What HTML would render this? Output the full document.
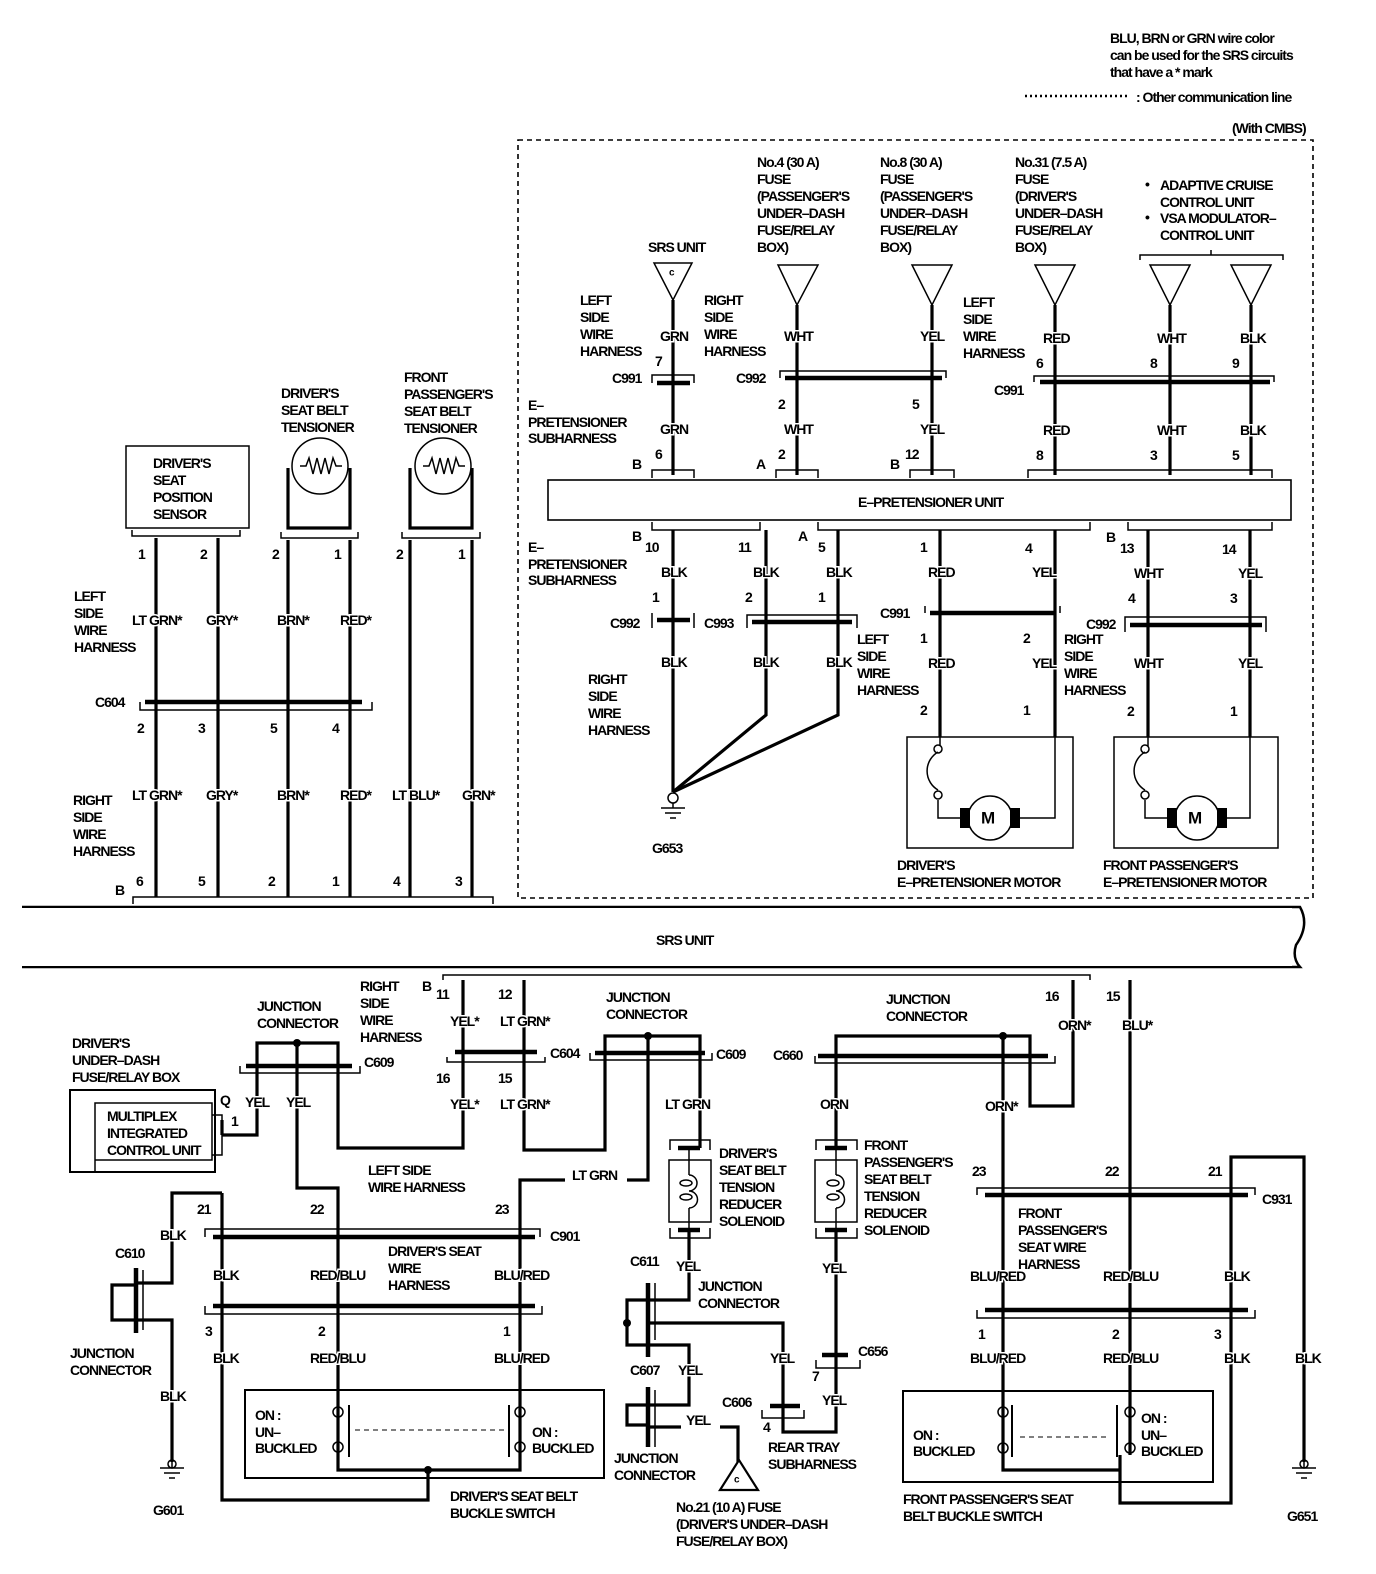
<!DOCTYPE html>
<html><head><meta charset="utf-8"><style>
html,body{margin:0;padding:0;background:#fff}
svg{display:block}
text{font-family:"Liberation Sans",sans-serif;font-weight:bold;font-size:14px;letter-spacing:-1px;dominant-baseline:central;fill:#000;paint-order:stroke;stroke:#fff;stroke-width:3px}
.w{stroke:#000;stroke-width:3.2;fill:none}
.t{stroke:#000;stroke-width:1.5;fill:none}
.b{stroke:#000;stroke-width:4.5;fill:none}
</style></head><body>
<svg width="1376" height="1574" viewBox="0 0 1376 1574" xmlns="http://www.w3.org/2000/svg">
<!-- legend -->
<text x="1110" y="38">BLU, BRN or GRN wire color</text>
<text x="1110" y="55">can be used for the SRS circuits</text>
<text x="1110" y="72">that have a * mark</text>
<line x1="1025" y1="96" x2="1128" y2="96" stroke="#000" stroke-width="2.5" stroke-dasharray="2,3"/>
<text x="1136" y="97">: Other communication line</text>
<text x="1232" y="128">(With CMBS)</text>
<rect x="518" y="140" width="795" height="758" fill="none" stroke="#000" stroke-width="1.6" stroke-dasharray="5,4"/>

<!-- top triangles -->
<g class="t" stroke-width="2.2">
<path d="M654,263 H692 L673,300 Z"/>
<path d="M778,265 H818 L797,305 Z"/>
<path d="M912,265 H952 L932,305 Z"/>
<path d="M1035,265 H1075 L1055,305 Z"/>
<path d="M1150,265 H1190 L1170,305 Z"/>
<path d="M1231,265 H1271 L1251,305 Z"/>
<path d="M1140,260 V255 H1283 V260 M1211,255 V250"/>
</g>
<text x="669" y="273" style="font-size:10px">c</text>
<text x="648" y="247">SRS UNIT</text>
<text x="757" y="162">No.4 (30 A)</text><text x="757" y="179">FUSE</text><text x="757" y="196">(PASSENGER'S</text><text x="757" y="213">UNDER–DASH</text><text x="757" y="230">FUSE/RELAY</text><text x="757" y="247">BOX)</text>
<text x="880" y="162">No.8 (30 A)</text><text x="880" y="179">FUSE</text><text x="880" y="196">(PASSENGER'S</text><text x="880" y="213">UNDER–DASH</text><text x="880" y="230">FUSE/RELAY</text><text x="880" y="247">BOX)</text>
<text x="1015" y="162">No.31 (7.5 A)</text><text x="1015" y="179">FUSE</text><text x="1015" y="196">(DRIVER'S</text><text x="1015" y="213">UNDER–DASH</text><text x="1015" y="230">FUSE/RELAY</text><text x="1015" y="247">BOX)</text>
<text x="1145" y="184">•</text><text x="1160" y="185">ADAPTIVE CRUISE</text><text x="1160" y="202">CONTROL UNIT</text>
<text x="1145" y="217">•</text><text x="1160" y="218">VSA MODULATOR–</text><text x="1160" y="235">CONTROL UNIT</text>
<text x="580" y="300">LEFT</text><text x="580" y="317">SIDE</text><text x="580" y="334">WIRE</text><text x="580" y="351">HARNESS</text>
<text x="704" y="300">RIGHT</text><text x="704" y="317">SIDE</text><text x="704" y="334">WIRE</text><text x="704" y="351">HARNESS</text>
<text x="963" y="302">LEFT</text><text x="963" y="319">SIDE</text><text x="963" y="336">WIRE</text><text x="963" y="353">HARNESS</text>

<!-- top wires -->
<g class="w">
<path d="M673,300 V475"/><path d="M797,305 V475"/><path d="M932,305 V475"/>
<path d="M1055,305 V475"/><path d="M1170,305 V475"/><path d="M1251,305 V475"/>
</g>
<g class="b">
<path d="M657,383 H690"/><path d="M785,378 H942"/><path d="M1040,382 H1270"/>
</g>
<g class="t">
<path d="M652,383 V375 H694 V383"/><path d="M780,378 V371 H946 V378"/><path d="M1034,382 V376 H1274 V382"/>
<path d="M652,478 V470 H694 V478"/><path d="M776,478 V470 H818 V478"/><path d="M910,478 V470 H954 V478"/><path d="M1028,478 V470 H1272 V478"/>
<path d="M652,522 V530 H760 V522"/><path d="M818,522 V530 H1090 V522"/><path d="M1128,522 V530 H1272 V522"/>
</g>
<text x="660" y="336">GRN</text><text x="784" y="336">WHT</text><text x="920" y="336">YEL</text><text x="1043" y="338">RED</text><text x="1157" y="338">WHT</text><text x="1240" y="338">BLK</text>
<text x="655" y="361">7</text><text x="1036" y="363">6</text><text x="1150" y="363">8</text><text x="1232" y="363">9</text>
<text x="612" y="378">C991</text><text x="736" y="378">C992</text><text x="994" y="390">C991</text>
<text x="778" y="404">2</text><text x="912" y="404">5</text>
<text x="660" y="429">GRN</text><text x="784" y="429">WHT</text><text x="920" y="429">YEL</text><text x="1043" y="430">RED</text><text x="1157" y="430">WHT</text><text x="1240" y="430">BLK</text>
<text x="528" y="405">E–</text><text x="528" y="422">PRETENSIONER</text><text x="528" y="438">SUBHARNESS</text>
<text x="632" y="464">B</text><text x="655" y="454">6</text><text x="756" y="464">A</text><text x="778" y="454">2</text><text x="890" y="464">B</text><text x="905" y="454">12</text><text x="1036" y="455">8</text><text x="1150" y="455">3</text><text x="1232" y="455">5</text>
<rect x="548" y="480" width="743" height="40" fill="none" stroke="#000" stroke-width="1.6"/>
<text x="858" y="502">E–PRETENSIONER UNIT</text>

<!-- below unit -->
<g class="w">
<path d="M673,530 V792"/><path d="M766,530 V715 L673,792"/><path d="M838,530 V715 L673,792"/>
<path d="M940,530 V737"/><path d="M1055,530 V737"/><path d="M1148,530 V737"/><path d="M1250,530 V737"/>
</g>
<g class="b">
<path d="M657,620 H690"/><path d="M752,622 H852"/><path d="M930,613 H1055"/><path d="M1130,625 H1262"/>
</g>
<g class="t">
<path d="M652,628 V613 M694,628 V613"/><path d="M747,628 V615 H857 V628"/><path d="M925,606 V613 M1060,606 V613"/><path d="M1125,632 V617 H1266 V632"/>
</g>
<text x="632" y="536">B</text><text x="798" y="536">A</text><text x="1106" y="537">B</text>
<text x="645" y="547">10</text><text x="738" y="547">11</text><text x="818" y="547">5</text><text x="920" y="547">1</text><text x="1025" y="548">4</text><text x="1120" y="548">13</text><text x="1222" y="549">14</text>
<text x="661" y="572">BLK</text><text x="753" y="572">BLK</text><text x="826" y="572">BLK</text><text x="928" y="572">RED</text><text x="1032" y="572">YEL</text><text x="1134" y="573">WHT</text><text x="1238" y="573">YEL</text>
<text x="528" y="547">E–</text><text x="528" y="564">PRETENSIONER</text><text x="528" y="580">SUBHARNESS</text>
<text x="652" y="597">1</text><text x="745" y="597">2</text><text x="818" y="597">1</text><text x="1128" y="598">4</text><text x="1230" y="598">3</text>
<text x="610" y="623">C992</text><text x="704" y="623">C993</text><text x="880" y="613">C991</text><text x="1086" y="624">C992</text>
<text x="920" y="638">1</text><text x="1023" y="638">2</text>
<text x="661" y="662">BLK</text><text x="753" y="662">BLK</text><text x="826" y="662">BLK</text><text x="928" y="663">RED</text><text x="1032" y="663">YEL</text><text x="1134" y="663">WHT</text><text x="1238" y="663">YEL</text>
<text x="857" y="639">LEFT</text><text x="857" y="656">SIDE</text><text x="857" y="673">WIRE</text><text x="857" y="690">HARNESS</text>
<text x="1064" y="639">RIGHT</text><text x="1064" y="656">SIDE</text><text x="1064" y="673">WIRE</text><text x="1064" y="690">HARNESS</text>
<text x="588" y="679">RIGHT</text><text x="588" y="696">SIDE</text><text x="588" y="713">WIRE</text><text x="588" y="730">HARNESS</text>
<text x="920" y="710">2</text><text x="1023" y="710">1</text><text x="1127" y="711">2</text><text x="1230" y="711">1</text>
<!-- ground G653 -->
<circle cx="673" cy="798" r="5" class="t" fill="#fff"/>
<path class="t" d="M673,803 V808 M661,808 H685 M665,813 H681 M670,818 H676"/>
<text x="652" y="848">G653</text>
<!-- motors -->
<g>
<rect x="907" y="737" width="166" height="111" class="t"/>
<path class="t" d="M940,737 V746 M938,752 A22,22 0 0 0 938,790 M938,800 V818 H966 M1014,818 H1055 V737"/>
<circle cx="938" cy="749" r="4" class="t" fill="#fff"/><circle cx="938" cy="795" r="4" class="t" fill="#fff"/>
<rect x="960" y="808" width="10" height="20"/><rect x="1010" y="808" width="10" height="20"/>
<circle cx="990" cy="818" r="22" class="t" fill="#fff" stroke-width="2"/>
<text x="981" y="818" style="font-size:17px">M</text>
</g>
<g transform="translate(207,0)">
<rect x="907" y="737" width="164" height="111" class="t"/>
<path class="t" d="M941,737 V746 M938,752 A22,22 0 0 0 938,790 M938,800 V818 H966 M1014,818 H1043 V737"/>
<circle cx="938" cy="749" r="4" class="t" fill="#fff"/><circle cx="938" cy="795" r="4" class="t" fill="#fff"/>
<rect x="960" y="808" width="10" height="20"/><rect x="1010" y="808" width="10" height="20"/>
<circle cx="990" cy="818" r="22" class="t" fill="#fff" stroke-width="2"/>
<text x="981" y="818" style="font-size:17px">M</text>
</g>
<text x="897" y="865">DRIVER'S</text><text x="897" y="882">E–PRETENSIONER MOTOR</text>
<text x="1103" y="865">FRONT PASSENGER'S</text><text x="1103" y="882">E–PRETENSIONER MOTOR</text>

<!-- left upper -->
<rect x="126" y="446" width="123" height="82" class="t"/>
<text x="153" y="463">DRIVER'S</text><text x="153" y="480">SEAT</text><text x="153" y="497">POSITION</text><text x="153" y="514">SENSOR</text>
<path class="t" d="M132,530 V536 H240 V530"/>
<text x="281" y="393">DRIVER'S</text><text x="281" y="410">SEAT BELT</text><text x="281" y="427">TENSIONER</text>
<text x="404" y="377">FRONT</text><text x="404" y="394">PASSENGER'S</text><text x="404" y="411">SEAT BELT</text><text x="404" y="428">TENSIONER</text>
<g class="w"><path d="M288,468 V528 H350 V468"/><path d="M410,468 V528 H472 V468"/></g>
<path class="t" d="M281,532 V538 H358 V532 M402,532 V538 H480 V532"/>
<circle cx="320" cy="466" r="28" class="t" fill="#fff" stroke-width="2.2"/>
<circle cx="443" cy="466" r="28" class="t" fill="#fff" stroke-width="2.2"/>
<path class="t" d="M300,466 L306,466 L309,458 L313,474 L317,458 L321,474 L325,458 L329,474 L333,458 L336,466 L342,466"/>
<path class="t" d="M423,466 L429,466 L432,458 L436,474 L440,458 L444,474 L448,458 L452,474 L456,458 L459,466 L465,466"/>
<text x="138" y="554">1</text><text x="200" y="554">2</text><text x="272" y="554">2</text><text x="334" y="554">1</text><text x="396" y="554">2</text><text x="458" y="554">1</text>
<g class="w">
<path d="M156,538 V897"/><path d="M218,538 V897"/><path d="M288,540 V897"/><path d="M350,540 V897"/><path d="M410,540 V897"/><path d="M472,540 V897"/>
</g>
<text x="74" y="596">LEFT</text><text x="74" y="613">SIDE</text><text x="74" y="630">WIRE</text><text x="74" y="647">HARNESS</text>
<g>
<text x="132" y="620">LT GRN*</text><text x="206" y="620">GRY*</text><text x="277" y="620">BRN*</text><text x="340" y="620">RED*</text>
<text x="132" y="795">LT GRN*</text><text x="206" y="795">GRY*</text><text x="277" y="795">BRN*</text><text x="340" y="795">RED*</text><text x="392" y="795">LT BLU*</text><text x="462" y="795">GRN*</text>
</g>
<path class="b" d="M145,702 H362"/><path class="t" d="M140,702 V710 H372 V702"/>
<text x="95" y="702">C604</text>
<text x="137" y="728">2</text><text x="198" y="728">3</text><text x="270" y="728">5</text><text x="332" y="728">4</text>
<text x="73" y="800">RIGHT</text><text x="73" y="817">SIDE</text><text x="73" y="834">WIRE</text><text x="73" y="851">HARNESS</text>
<text x="136" y="881">6</text><text x="198" y="881">5</text><text x="268" y="881">2</text><text x="332" y="881">1</text><text x="393" y="881">4</text><text x="455" y="881">3</text>
<text x="115" y="890">B</text>
<path class="t" d="M133,904 V897 H493 V904"/>

<!-- SRS band -->
<path stroke="#000" stroke-width="2.5" fill="none" d="M22,907 H1300 Q1310,925 1296,945 Q1292,958 1300,967 H22"/>
<rect x="22" y="908" width="1270" height="58" fill="#fff"/>
<text x="656" y="940">SRS UNIT</text>

<!-- bottom -->
<text x="422" y="986">B</text>
<path class="t" d="M443,980 V975 H1090 V980"/>
<text x="436" y="994">11</text><text x="498" y="994">12</text><text x="1045" y="996">16</text><text x="1106" y="996">15</text>
<g class="w">
<path d="M463,980 V1148 H338 V1043 H257 V1135 H222"/>
<path d="M297,1043 V1188 H338 V1455 V1470 H520 V1180 H565"/>
<path d="M524,980 V1150 H605 V1036 H700 V1148"/>
<path d="M648,1036 V1180 H627"/>
<path d="M1073,980 V1106 H1030 V1036 H836 V1148"/>
<path d="M1003,1036 V1455 V1470 H1120"/>
<path d="M1130,980 V1455"/>
<path d="M1120,1455 V1503 H1231 V1157 H1304 V1462"/>
<path d="M222,1135 V1120"/>
<path d="M222,1193 V1500 H428 V1470"/>
<path d="M222,1193 H172 V1283 H136"/>
<path d="M136,1320 H172 V1462"/>
<path d="M689,1230 V1300 H648"/>
<path d="M648,1323 H783 V1410"/>
<path d="M648,1345 H689 V1405 H648"/>
<path d="M648,1427 H681 M720,1427 H738 V1462"/>
<path d="M836,1230 V1432 H783 V1410"/>
</g>
<circle cx="297" cy="1043" r="4"/><circle cx="648" cy="1036" r="4"/><circle cx="1003" cy="1036" r="4"/><circle cx="428" cy="1470" r="4"/><circle cx="627" cy="1323" r="4"/>
<g class="b">
<path d="M246,1066 H352"/><path d="M455,1052 H537"/><path d="M595,1053 H705"/><path d="M818,1056 H1048"/>
<path d="M213,1237 H535"/><path d="M213,1306 H535"/><path d="M985,1195 H1248"/><path d="M985,1310 H1248"/>
<path d="M678,1148 H700"/><path d="M678,1230 H700"/><path d="M825,1148 H847"/><path d="M825,1230 H847"/>
<path d="M822,1355 H848"/><path d="M770,1406 H800"/>
<path d="M648,1283 V1357"/><path d="M648,1387 V1447"/><path d="M136,1268 V1333"/>
</g>
<g class="w"><path d="M648,1300 H627 V1345 H648"/><path d="M648,1405 H627 V1425 H648"/><path d="M136,1285 H112 V1320 H136"/></g>
<g class="t">
<path d="M240,1066 V1073 H360 V1066"/><path d="M447,1057 V1062 H545 V1057"/><path d="M590,1053 V1060 H712 V1053"/><path d="M815,1056 V1063 H1055 V1056"/>
<path d="M205,1237 V1229 H540 V1237"/><path d="M205,1306 V1314 H542 V1306"/><path d="M977,1195 V1188 H1255 V1195"/><path d="M977,1310 V1318 H1255 V1310"/>
<path d="M670,1150 V1140 H710 V1150 M670,1228 V1238 H710 V1228"/><rect x="669" y="1160" width="42" height="62"/>
<path d="M816,1150 V1140 H857 V1150 M816,1228 V1238 H857 V1228"/><rect x="815" y="1160" width="42" height="62"/>
<path d="M689,1148 V1175 M689,1208 V1230 M836,1148 V1175 M836,1208 V1230"/>
<path d="M689,1175 a8,8 0 0 1 0,16 a8,8 0 0 1 0,17"/><path d="M836,1175 a8,8 0 0 1 0,16 a8,8 0 0 1 0,17"/>
<ellipse cx="686" cy="1183" rx="6" ry="3"/><ellipse cx="686" cy="1197" rx="6" ry="3"/>
<ellipse cx="833" cy="1183" rx="6" ry="3"/><ellipse cx="833" cy="1197" rx="6" ry="3"/>
<path d="M655,1283 V1340 M655,1390 V1447 M143,1270 V1330"/>
<path d="M816,1360 V1368 H860 V1360 M762,1410 V1418 H804 V1410"/>
<rect x="70" y="1090" width="145" height="82" stroke-width="2"/><path d="M95,1172 V1103 H212 V1160 H95"/>
<path d="M212,1115 H222 V1155 H212"/>
<rect x="245" y="1390" width="359" height="88" stroke-width="2"/>
<rect x="903" y="1391" width="310" height="91" stroke-width="2"/>
<path d="M349,1405 V1457 M509,1405 V1457 M1012,1405 V1457 M1117,1405 V1457" stroke-width="2"/>
<path d="M355,1430 H505 M1020,1437 H1110" stroke-dasharray="5,4" stroke-width="1"/>
<path d="M720,1490 H758 L739,1460 Z" stroke-width="2.2"/>
</g>
<g class="t" fill="#fff" stroke-width="1.8">
<circle cx="338" cy="1412" r="5"/><circle cx="338" cy="1447" r="5"/><circle cx="520" cy="1412" r="5"/><circle cx="520" cy="1447" r="5"/>
<circle cx="1003" cy="1412" r="5"/><circle cx="1003" cy="1448" r="5"/><circle cx="1130" cy="1412" r="5"/><circle cx="1130" cy="1448" r="5"/>
</g>
<path class="t" d="M172,1462 V1468 M160,1468 H184 M164,1473 H180 M169,1478 H175 M1304,1462 V1468 M1292,1468 H1316 M1296,1473 H1312 M1301,1478 H1307"/>
<circle cx="172" cy="1464" r="4" class="t" fill="#fff"/><circle cx="1304" cy="1464" r="4" class="t" fill="#fff"/>

<g>
<text x="450" y="1021">YEL*</text><text x="500" y="1021">LT GRN*</text>
<text x="450" y="1104">YEL*</text><text x="500" y="1104">LT GRN*</text>
<text x="245" y="1102">YEL</text><text x="286" y="1102">YEL</text>
<text x="665" y="1104">LT GRN</text><text x="820" y="1104">ORN</text><text x="1058" y="1025">ORN*</text><text x="1122" y="1025">BLU*</text><text x="985" y="1106">ORN*</text>
<text x="676" y="1266">YEL</text><text x="822" y="1268">YEL</text><text x="770" y="1358">YEL</text><text x="822" y="1400">YEL</text><text x="678" y="1370">YEL</text>
<text x="213" y="1275">BLK</text><text x="310" y="1275">RED/BLU</text><text x="494" y="1275">BLU/RED</text>
<text x="213" y="1358">BLK</text><text x="310" y="1358">RED/BLU</text><text x="494" y="1358">BLU/RED</text>
<text x="160" y="1235">BLK</text><text x="160" y="1396">BLK</text>
<text x="970" y="1276">BLU/RED</text><text x="1103" y="1276">RED/BLU</text><text x="1224" y="1276">BLK</text>
<text x="970" y="1358">BLU/RED</text><text x="1103" y="1358">RED/BLU</text><text x="1224" y="1358">BLK</text><text x="1295" y="1358">BLK</text>
</g>
<text x="572" y="1175">LT GRN</text>
<text x="686" y="1420">YEL</text>
<text x="360" y="986">RIGHT</text><text x="360" y="1003">SIDE</text><text x="360" y="1020">WIRE</text><text x="360" y="1037">HARNESS</text>
<text x="257" y="1006">JUNCTION</text><text x="257" y="1023">CONNECTOR</text>
<text x="364" y="1062">C609</text><text x="550" y="1053">C604</text><text x="716" y="1054">C609</text><text x="773" y="1055">C660</text>
<text x="606" y="997">JUNCTION</text><text x="606" y="1014">CONNECTOR</text>
<text x="886" y="999">JUNCTION</text><text x="886" y="1016">CONNECTOR</text>
<text x="436" y="1078">16</text><text x="498" y="1078">15</text>
<text x="72" y="1043">DRIVER'S</text><text x="72" y="1060">UNDER–DASH</text><text x="72" y="1077">FUSE/RELAY BOX</text>
<text x="107" y="1116">MULTIPLEX</text><text x="107" y="1133">INTEGRATED</text><text x="107" y="1150">CONTROL UNIT</text>
<text x="220" y="1100">Q</text><text x="231" y="1121">1</text>
<text x="368" y="1170">LEFT SIDE</text><text x="368" y="1187">WIRE HARNESS</text>
<text x="197" y="1209">21</text><text x="310" y="1209">22</text><text x="495" y="1209">23</text><text x="550" y="1236">C901</text>
<text x="388" y="1251">DRIVER'S SEAT</text><text x="388" y="1268">WIRE</text><text x="388" y="1285">HARNESS</text>
<text x="205" y="1331">3</text><text x="318" y="1331">2</text><text x="503" y="1331">1</text>
<text x="115" y="1253">C610</text><text x="70" y="1353">JUNCTION</text><text x="70" y="1370">CONNECTOR</text>
<text x="153" y="1510">G601</text>
<text x="255" y="1415">ON :</text><text x="255" y="1432">UN–</text><text x="255" y="1448">BUCKLED</text>
<text x="532" y="1432">ON :</text><text x="532" y="1448">BUCKLED</text>
<text x="450" y="1496">DRIVER'S SEAT BELT</text><text x="450" y="1513">BUCKLE SWITCH</text>
<text x="719" y="1153">DRIVER'S</text><text x="719" y="1170">SEAT BELT</text><text x="719" y="1187">TENSION</text><text x="719" y="1204">REDUCER</text><text x="719" y="1221">SOLENOID</text>
<text x="864" y="1145">FRONT</text><text x="864" y="1162">PASSENGER'S</text><text x="864" y="1179">SEAT BELT</text><text x="864" y="1196">TENSION</text><text x="864" y="1213">REDUCER</text><text x="864" y="1230">SOLENOID</text>
<text x="630" y="1261">C611</text><text x="698" y="1286">JUNCTION</text><text x="698" y="1303">CONNECTOR</text>
<text x="630" y="1370">C607</text><text x="614" y="1458">JUNCTION</text><text x="614" y="1475">CONNECTOR</text>
<text x="858" y="1351">C656</text><text x="812" y="1376">7</text><text x="722" y="1402">C606</text><text x="763" y="1427">4</text>
<text x="768" y="1447">REAR TRAY</text><text x="768" y="1464">SUBHARNESS</text>
<text x="734" y="1480" style="font-size:10px">c</text>
<text x="676" y="1507">No.21 (10 A) FUSE</text><text x="676" y="1524">(DRIVER'S UNDER–DASH</text><text x="676" y="1541">FUSE/RELAY BOX)</text>
<text x="972" y="1171">23</text><text x="1105" y="1171">22</text><text x="1208" y="1171">21</text><text x="1262" y="1199">C931</text>
<text x="1018" y="1213">FRONT</text><text x="1018" y="1230">PASSENGER'S</text><text x="1018" y="1247">SEAT WIRE</text><text x="1018" y="1264">HARNESS</text>
<text x="978" y="1334">1</text><text x="1112" y="1334">2</text><text x="1214" y="1334">3</text>
<text x="913" y="1435">ON :</text><text x="913" y="1451">BUCKLED</text>
<text x="1141" y="1418">ON :</text><text x="1141" y="1435">UN–</text><text x="1141" y="1451">BUCKLED</text>
<text x="903" y="1499">FRONT PASSENGER'S SEAT</text><text x="903" y="1516">BELT BUCKLE SWITCH</text>
<text x="1287" y="1516">G651</text>
</svg>
</body></html>
